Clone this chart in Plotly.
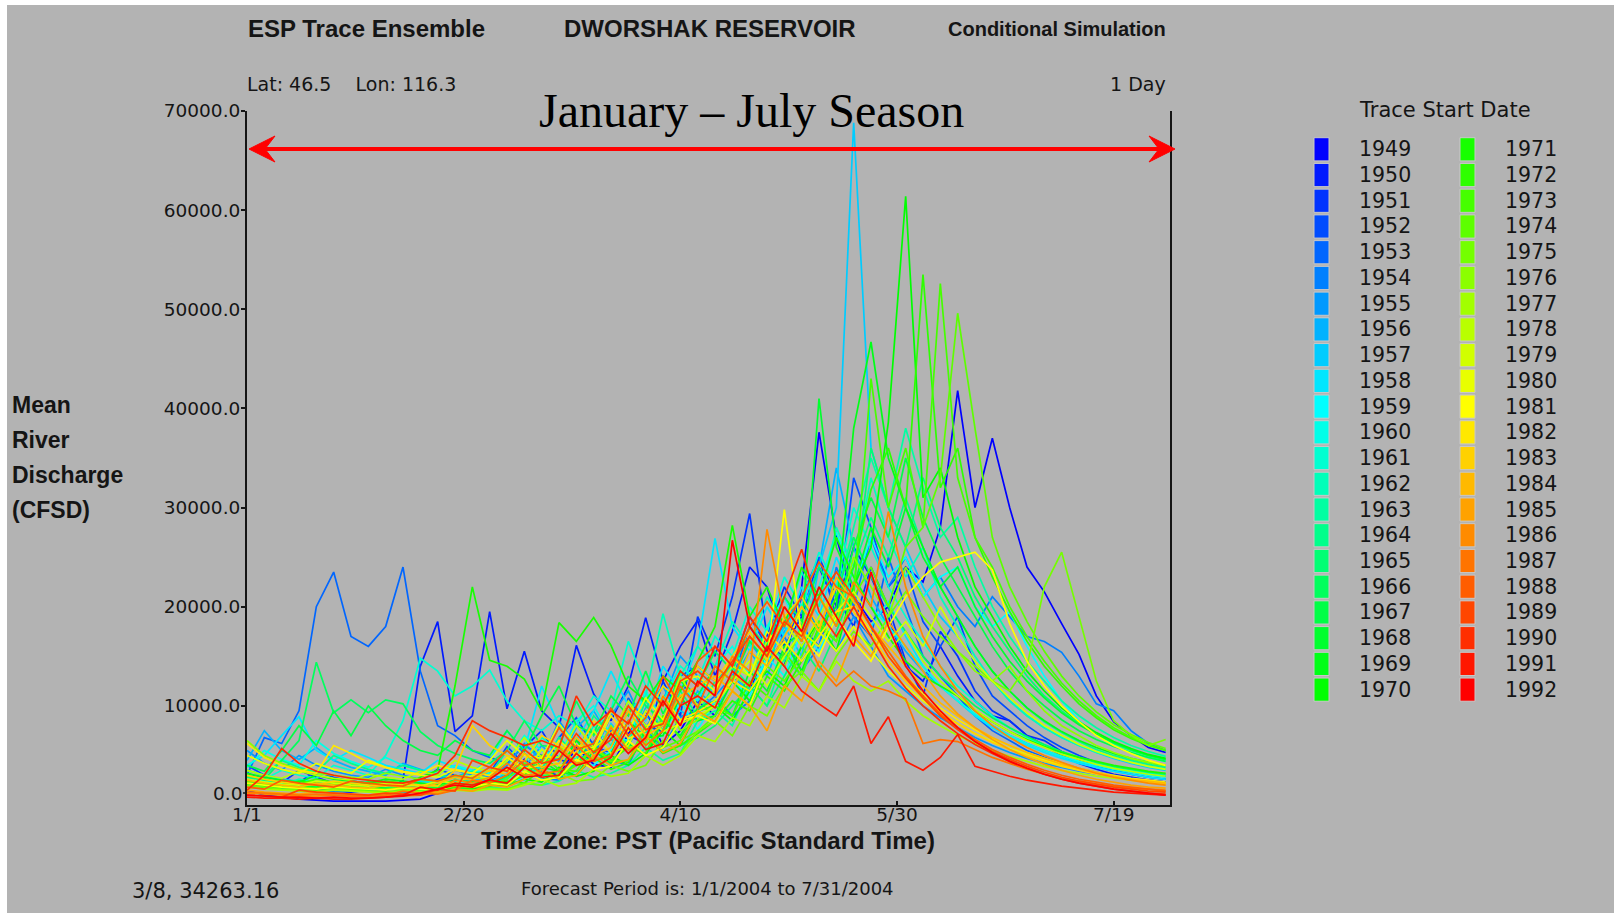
import plotly.graph_objects as go
from datetime import date, timedelta

# ---------------- data (mean daily discharge, thousands of CFSD) ----------------
YEARS = list(range(1949, 1993))
DAY_OFFSETS = list(range(0, 213, 4))          # sample days counted from 1 Jan 2004
XTICK_DATES = ["2004-01-01", "2004-02-20", "2004-04-10", "2004-05-30", "2004-07-19"]
XTICK_TEXT = ["1/1", "2/20", "4/10", "5/30", "7/19"]
YTICK_VALUES = [10000, 20000, 30000, 40000, 50000, 60000, 70000]

Q1949 = [1.5, 1.0, 0.8, 0.6, 0.5, 0.4, 0.4, 0.4, 0.4, 0.5, 0.6, 1.2, 2.0, 1.6,
         2.0, 2.8, 4.6, 3.4, 3.0, 5.8, 4.1, 3.8, 7.2, 9.5, 6.0, 7.5, 10.5,
         9.0, 13.0, 11.5, 16.0, 14.0, 22.0, 37.6, 27.0, 21.0, 18.5, 20.0, 24.0, 22.5, 28.0,
         41.8, 30.0, 37.0, 30.0, 24.0, 21.5, 18.3, 15.2, 11.0, 8.4, 7.0, 5.8, 5.3]
Q1950 = [2.5, 2.0, 1.8, 2.2, 1.6, 1.4, 1.3, 1.5, 1.4, 2.5, 14.0, 18.5, 7.4, 9.0,
         19.5, 9.7, 15.5, 9.5, 7.8, 16.1, 11.2, 8.5, 12.0, 18.9, 12.5, 16.0, 18.6,
         13.0, 17.5, 24.0, 22.0, 16.0, 19.0, 24.0, 20.0, 26.0, 23.0, 19.0, 14.0, 12.5, 16.0,
         13.0, 10.5, 9.0, 8.5, 7.0, 6.0, 5.0, 4.2, 3.6, 3.1, 2.8, 2.5, 2.3]
Q1951 = [3.2, 2.6, 2.2, 3.5, 2.8, 2.2, 2.0, 1.8, 2.4, 2.0, 1.8, 2.6, 3.0, 2.5,
         2.4, 3.1, 5.8, 7.5, 4.6, 4.0, 6.2, 9.8, 7.0, 6.2, 12.5, 9.0, 19.0,
         15.0, 21.0, 29.4, 17.0, 22.0, 19.0, 25.0, 21.0, 18.0, 24.0, 20.0, 14.5, 11.0, 17.5,
         15.0, 11.5, 9.5, 8.5, 7.0, 6.5, 5.4, 4.6, 4.0, 3.5, 3.1, 2.8, 2.6]
Q1952 = [4.0, 3.0, 2.6, 2.3, 3.4, 2.8, 2.4, 2.2, 2.0, 1.9, 2.4, 3.6, 3.0, 2.6,
         3.2, 5.9, 4.1, 3.6, 6.8, 8.8, 6.0, 5.2, 10.8, 8.0, 7.4, 13.0, 14.0,
         12.5, 14.0, 19.0, 16.0, 15.0, 21.0, 25.0, 19.0, 33.0, 28.0, 22.0, 24.0, 18.5, 16.0,
         19.0, 14.0, 11.0, 9.5, 8.0, 6.8, 5.8, 5.0, 4.3, 3.8, 3.4, 3.1, 2.9]
Q1953 = [3.0, 6.8, 6.2, 9.5, 20.0, 23.5, 17.0, 16.0, 18.0, 24.0, 13.5, 8.0, 7.0, 5.5,
         4.8, 4.2, 6.0, 5.0, 4.5, 6.5, 5.5, 7.5, 6.2, 9.0, 8.0, 12.0, 10.0,
         14.0, 12.5, 18.0, 15.5, 21.0, 18.0, 16.0, 22.0, 19.0, 17.0, 25.0, 20.0, 15.0, 13.0,
         11.0, 9.0, 7.5, 6.5, 5.5, 4.8, 4.2, 3.7, 3.3, 3.0, 2.7, 2.5, 2.3]
Q1954 = [2.0, 1.8, 1.6, 1.5, 1.4, 1.3, 1.5, 1.4, 1.3, 1.2, 1.4, 1.6, 1.5, 1.8,
         2.2, 2.0, 3.3, 2.7, 2.5, 4.6, 6.4, 4.5, 4.0, 7.6, 5.8, 8.9, 9.5,
         11.0, 9.0, 10.5, 14.0, 17.0, 13.5, 16.0, 24.0, 20.0, 27.0, 22.0, 25.0, 21.0, 23.0,
         20.0, 18.0, 21.0, 19.0, 17.0, 16.5, 15.4, 13.0, 10.2, 9.5, 7.5, 6.2, 5.5]
Q1955 = [5.5, 4.2, 3.5, 5.0, 4.0, 3.4, 3.0, 2.8, 3.6, 3.0, 2.6, 2.4, 3.5, 3.0,
         2.8, 4.0, 6.2, 4.5, 8.5, 6.0, 5.2, 9.0, 11.5, 7.8, 10.5, 15.0, 13.0,
         11.0, 13.0, 16.5, 14.0, 18.5, 21.0, 17.5, 15.5, 19.0, 16.0, 13.0, 11.5, 10.0, 8.8,
         7.8, 6.8, 6.0, 5.3, 4.7, 4.2, 3.8, 3.4, 3.1, 2.8, 2.6, 2.4, 2.2]
Q1956 = [4.5, 7.5, 5.5, 4.6, 5.8, 4.5, 3.8, 3.4, 3.0, 4.2, 3.6, 3.0, 2.8, 3.5,
         3.0, 2.7, 3.8, 6.0, 4.4, 7.8, 9.5, 6.6, 5.8, 9.8, 12.0, 8.5, 11.5,
         10.0, 12.5, 15.5, 13.0, 17.5, 19.5, 24.0, 34.0, 26.0, 21.0, 18.0, 15.5, 13.5, 12.0,
         10.5, 9.0, 8.0, 7.0, 6.2, 5.5, 4.9, 4.3, 3.8, 3.4, 3.1, 2.8, 2.6]
Q1957 = [3.5, 3.0, 2.6, 2.4, 2.2, 2.0, 2.1, 1.9, 1.8, 2.0, 2.4, 2.2, 2.0, 2.6,
         2.3, 3.2, 2.8, 4.0, 6.8, 5.0, 4.4, 8.2, 6.0, 11.5, 8.0, 9.5, 8.5,
         9.0, 13.0, 11.5, 14.5, 18.0, 15.0, 24.0, 30.0, 68.8, 36.0, 30.0, 26.0, 22.0, 19.0,
         17.0, 14.5, 12.5, 10.5, 9.0, 7.8, 6.8, 6.0, 5.3, 4.7, 4.2, 3.8, 3.5]
Q1958 = [4.0, 5.0, 7.0, 8.9, 5.5, 4.5, 5.5, 4.8, 4.0, 3.6, 3.2, 4.5, 3.8, 3.4,
         4.5, 7.5, 5.5, 12.0, 8.0, 6.5, 9.5, 13.5, 10.0, 8.5, 14.0, 11.5, 16.0,
         26.9, 18.0, 15.5, 20.0, 17.0, 22.0, 19.0, 25.0, 21.0, 18.0, 20.5, 17.0, 14.0, 12.0,
         10.5, 9.0, 7.8, 6.8, 6.0, 5.3, 4.7, 4.2, 3.8, 3.4, 3.1, 2.8, 2.6]
Q1959 = [3.0, 2.5, 2.2, 2.0, 1.9, 1.8, 2.2, 2.0, 1.8, 1.7, 1.6, 2.0, 2.4, 2.1,
         2.0, 2.8, 2.5, 3.5, 5.5, 4.2, 4.0, 5.5, 8.5, 6.2, 7.0, 10.5, 7.6,
         10.5, 12.5, 11.0, 15.0, 13.0, 17.5, 15.5, 19.0, 22.0, 27.0, 23.0, 25.0, 21.0, 23.0,
         24.0, 20.0, 18.0, 19.5, 16.0, 13.0, 10.5, 8.5, 7.0, 6.0, 5.3, 4.8, 4.4]
Q1960 = [3.8, 5.5, 4.6, 4.0, 6.5, 5.2, 4.4, 3.8, 4.8, 4.0, 3.5, 3.2, 4.0, 3.5,
         3.2, 4.4, 7.0, 5.5, 4.8, 8.5, 10.0, 7.0, 6.5, 11.5, 8.5, 12.0, 10.5,
         14.0, 16.0, 13.0, 18.0, 21.0, 17.0, 22.0, 27.5, 23.0, 20.0, 18.0, 16.0, 14.0, 12.0,
         10.5, 9.2, 8.0, 7.0, 6.2, 5.5, 4.9, 4.4, 4.0, 3.6, 3.3, 3.0, 2.8]
Q1961 = [3.0, 2.6, 3.5, 3.0, 2.7, 4.0, 3.5, 3.0, 5.0, 8.5, 14.8, 13.5, 11.0, 12.0,
         13.6, 10.5, 8.5, 7.5, 9.0, 8.0, 11.0, 9.5, 16.5, 12.0, 10.5, 14.0, 12.5,
         17.0, 15.0, 20.0, 17.5, 23.0, 20.0, 25.5, 22.0, 30.0, 26.0, 22.0, 19.0, 16.5, 14.0,
         12.0, 10.5, 9.0, 7.8, 6.8, 6.0, 5.3, 4.7, 4.2, 3.8, 3.5, 3.2, 3.0]
Q1962 = [2.5, 2.2, 2.0, 2.6, 2.3, 2.0, 1.9, 2.4, 2.1, 1.9, 2.5, 2.2, 3.0, 2.6,
         3.5, 3.0, 4.2, 6.8, 5.5, 4.6, 8.0, 6.0, 9.5, 11.0, 19.3, 13.0, 16.0,
         14.0, 18.5, 16.0, 21.0, 18.0, 23.5, 20.0, 28.0, 24.0, 33.0, 27.0, 23.0, 26.0, 21.0,
         18.0, 15.0, 12.5, 10.5, 9.0, 7.8, 6.8, 6.0, 5.3, 4.8, 4.3, 3.9, 3.6]
Q1963 = [2.2, 2.0, 1.8, 1.7, 2.0, 1.8, 1.6, 1.5, 1.7, 1.6, 1.5, 1.4, 1.6, 1.5,
         1.8, 1.6, 2.2, 2.0, 2.4, 3.5, 2.8, 3.2, 4.0, 5.8, 4.5, 5.2, 8.5,
         9.5, 8.0, 12.0, 10.0, 15.0, 13.0, 17.5, 21.0, 28.0, 35.0, 30.0, 38.0, 32.0, 27.0,
         29.0, 24.0, 20.0, 17.0, 14.5, 12.5, 10.5, 9.0, 7.8, 6.8, 6.0, 5.4, 4.9]
Q1964 = [3.5, 3.0, 4.5, 3.8, 3.3, 5.0, 4.2, 3.6, 3.2, 4.0, 3.5, 3.0, 2.7, 3.4,
         3.0, 5.5, 4.0, 3.6, 6.8, 5.0, 9.0, 7.0, 6.2, 10.5, 7.5, 11.5, 9.0,
         12.5, 14.0, 12.0, 16.5, 14.5, 18.0, 21.0, 18.0, 24.0, 29.0, 25.0, 31.0, 26.0, 22.0,
         19.0, 16.0, 13.5, 11.5, 9.8, 8.4, 7.3, 6.4, 5.6, 5.0, 4.5, 4.1, 3.8]
Q1965 = [2.8, 2.5, 2.3, 2.1, 2.0, 2.4, 2.2, 2.0, 1.9, 1.8, 2.2, 2.0, 1.9, 2.3,
         2.1, 2.8, 3.8, 3.0, 2.8, 4.2, 5.8, 4.0, 4.5, 7.5, 5.4, 6.0, 6.8,
         8.0, 10.0, 12.0, 10.0, 13.0, 16.0, 13.5, 17.5, 22.0, 36.0, 30.0, 26.0, 33.0, 28.0,
         25.0, 21.0, 18.0, 15.5, 13.0, 11.0, 9.5, 8.2, 7.1, 6.2, 5.5, 5.0, 4.6]
Q1966 = [3.0, 2.6, 4.5, 6.5, 14.4, 9.3, 10.6, 9.3, 10.6, 10.2, 7.4, 6.0, 5.2, 4.6,
         4.2, 5.5, 8.5, 6.0, 5.8, 10.5, 7.0, 9.5, 13.0, 10.0, 8.5, 13.5, 12.0,
         15.5, 13.5, 18.0, 16.0, 21.0, 18.5, 24.0, 21.0, 27.0, 23.0, 20.0, 17.5, 15.0, 13.0,
         11.5, 10.0, 8.8, 7.8, 6.9, 6.1, 5.4, 4.8, 4.3, 3.9, 3.6, 3.3, 3.1]
Q1967 = [4.0, 3.4, 5.5, 8.0, 6.0, 9.5, 7.0, 10.0, 8.0, 6.5, 5.5, 5.0, 6.5, 5.5,
         5.0, 7.5, 5.4, 9.0, 12.0, 8.0, 7.2, 11.0, 9.0, 13.5, 9.2, 12.5, 11.0,
         14.0, 12.5, 16.5, 14.5, 19.0, 16.5, 22.0, 19.0, 26.0, 31.0, 27.0, 35.0, 29.0, 25.0,
         22.0, 19.0, 16.0, 13.5, 11.5, 10.0, 8.6, 7.5, 6.6, 5.9, 5.3, 4.8, 4.4]
Q1968 = [2.5, 2.2, 2.0, 1.9, 1.8, 2.2, 2.0, 1.8, 1.7, 1.6, 1.8, 1.7, 2.0, 1.8,
         2.5, 2.2, 3.0, 4.5, 3.3, 3.0, 5.5, 4.2, 6.2, 5.0, 8.5, 7.0, 9.8,
         10.5, 9.0, 13.5, 11.5, 16.0, 17.5, 41.0, 26.0, 22.0, 28.0, 24.0, 30.0, 25.0, 22.0,
         24.0, 20.0, 17.0, 14.5, 12.5, 10.8, 9.3, 8.1, 7.1, 6.3, 5.6, 5.0, 4.6]
Q1969 = [3.2, 2.8, 2.5, 2.3, 3.0, 2.6, 2.4, 2.2, 2.6, 2.4, 2.2, 2.0, 2.5, 2.3,
         2.1, 3.0, 5.2, 3.8, 3.4, 6.5, 4.4, 5.2, 8.5, 6.8, 7.0, 11.0, 8.5,
         9.0, 12.5, 10.5, 14.0, 16.5, 13.5, 18.0, 20.0, 38.0, 46.7, 35.0, 30.0, 26.0, 22.0,
         19.0, 16.0, 13.5, 11.5, 9.8, 8.5, 7.4, 6.5, 5.8, 5.2, 4.7, 4.3, 4.0]
Q1970 = [2.0, 1.8, 1.6, 1.5, 1.4, 1.6, 1.5, 1.4, 1.3, 1.4, 1.6, 1.5, 1.8, 1.7,
         2.0, 1.9, 2.6, 2.3, 3.8, 2.9, 3.4, 5.0, 4.0, 5.2, 7.5, 6.0, 9.5,
         10.0, 8.5, 11.5, 13.5, 12.0, 16.0, 18.5, 15.5, 22.0, 26.0, 38.6, 61.4, 31.0, 34.0,
         27.0, 22.0, 19.0, 16.0, 13.5, 11.5, 9.8, 8.4, 7.3, 6.4, 5.7, 5.1, 4.7]
Q1971 = [2.5, 2.2, 2.0, 2.4, 2.2, 2.0, 1.9, 2.3, 2.1, 2.0, 2.8, 3.5, 12.0, 22.0,
         14.6, 14.0, 12.7, 9.5, 18.4, 16.5, 18.9, 16.1, 12.0, 10.5, 13.0, 11.5, 14.5,
         18.0, 28.2, 19.0, 22.0, 18.0, 24.0, 21.0, 27.0, 23.0, 20.0, 17.0, 14.5, 13.0, 12.0,
         11.0, 9.5, 8.4, 7.4, 6.6, 5.9, 5.3, 4.8, 4.4, 4.0, 3.7, 3.4, 3.2]
Q1972 = [2.2, 2.0, 1.8, 1.7, 1.6, 1.9, 1.7, 1.6, 1.5, 1.7, 1.6, 1.5, 1.8, 1.7,
         1.9, 2.4, 2.2, 3.6, 2.7, 3.0, 4.8, 3.6, 4.3, 7.0, 5.2, 6.0, 7.2,
         8.5, 10.5, 9.5, 13.0, 11.5, 14.5, 17.0, 21.0, 24.0, 31.8, 36.0, 30.0, 53.5, 32.0,
         36.0, 27.0, 23.0, 19.5, 16.5, 14.0, 12.0, 10.2, 8.8, 7.6, 6.7, 6.0, 5.5]
Q1973 = [3.0, 2.6, 2.3, 2.1, 2.6, 2.3, 2.1, 2.0, 2.4, 2.2, 2.0, 1.9, 2.2, 2.0,
         2.4, 2.2, 3.0, 5.0, 3.6, 3.4, 6.0, 4.5, 5.8, 5.2, 9.0, 6.7, 9.5,
         10.0, 9.0, 12.5, 11.0, 15.5, 13.0, 18.0, 16.5, 21.0, 43.0, 30.0, 36.0, 28.0, 52.6,
         33.0, 27.0, 24.0, 20.0, 17.0, 14.5, 12.3, 10.5, 9.0, 7.8, 6.8, 6.1, 5.5]
Q1974 = [2.4, 2.1, 1.9, 1.8, 1.7, 2.0, 1.8, 1.7, 1.6, 1.8, 1.7, 1.6, 1.9, 1.8,
         2.0, 2.6, 4.2, 3.2, 2.9, 4.0, 5.8, 4.4, 4.5, 8.0, 5.8, 6.5, 7.4,
         9.0, 11.5, 10.0, 14.0, 12.5, 15.0, 18.5, 16.5, 21.0, 24.0, 20.0, 26.0, 28.0, 33.0,
         49.6, 38.0, 27.0, 22.0, 18.5, 15.5, 13.0, 11.0, 9.4, 8.1, 7.1, 6.3, 5.7]
Q1975 = [2.0, 1.8, 1.6, 1.5, 1.4, 1.6, 1.5, 1.4, 1.3, 1.5, 1.4, 1.3, 1.6, 1.5,
         1.7, 1.6, 2.2, 2.0, 3.2, 2.4, 2.6, 4.0, 3.4, 4.0, 6.5, 5.2, 7.5,
         8.5, 7.0, 10.0, 9.0, 12.0, 13.5, 11.5, 15.0, 17.5, 16.0, 19.0, 21.5, 19.0, 17.0,
         15.5, 14.0, 12.5, 11.5, 14.0, 22.0, 25.5, 19.0, 12.5, 8.5, 7.0, 6.0, 6.6]
Q1976 = [6.5, 5.0, 4.2, 3.6, 3.2, 3.0, 2.8, 2.6, 3.2, 2.9, 2.6, 2.4, 3.0, 2.8,
         2.6, 4.8, 3.4, 3.2, 6.0, 4.2, 4.7, 8.0, 5.8, 6.2, 10.5, 7.5, 8.6,
         10.0, 13.0, 12.0, 15.5, 14.0, 18.0, 21.0, 18.5, 25.0, 22.0, 19.0, 24.0, 21.0, 18.0,
         15.5, 13.5, 12.5, 14.0, 11.5, 9.5, 8.0, 7.0, 6.0, 5.3, 4.7, 4.3, 4.0]
Q1977 = [1.8, 1.6, 1.5, 1.4, 1.3, 1.5, 1.4, 1.3, 1.2, 1.4, 1.3, 1.2, 1.5, 1.4,
         1.6, 1.5, 2.0, 2.6, 1.9, 2.2, 3.6, 2.9, 3.2, 5.0, 4.0, 5.0, 7.0,
         6.4, 8.8, 8.0, 11.0, 9.8, 13.0, 11.5, 14.5, 12.5, 11.5, 12.5, 10.5, 9.0, 8.0,
         7.0, 6.2, 5.5, 4.9, 4.4, 3.9, 3.5, 3.2, 2.9, 2.7, 2.5, 2.3, 2.2]
Q1978 = [3.5, 3.0, 2.7, 3.4, 3.0, 2.7, 2.5, 3.1, 2.8, 2.6, 3.4, 3.0, 4.5, 3.8,
         3.4, 4.4, 6.8, 4.8, 4.8, 8.0, 5.8, 7.0, 10.5, 8.0, 8.3, 13.0, 10.0,
         11.5, 14.0, 13.0, 16.5, 18.5, 16.0, 19.0, 22.0, 21.0, 18.0, 15.5, 17.5, 14.5, 12.5,
         11.0, 9.6, 8.4, 7.4, 6.5, 5.8, 5.1, 4.6, 4.1, 3.7, 3.4, 3.1, 2.9]
Q1979 = [2.6, 2.3, 2.1, 2.0, 2.4, 2.2, 2.0, 1.9, 2.2, 2.0, 1.9, 2.4, 2.2, 3.0,
         2.7, 3.6, 3.2, 5.6, 4.0, 4.2, 7.5, 5.2, 6.0, 9.5, 7.4, 8.2, 9.0,
         10.0, 12.5, 14.5, 12.0, 15.0, 17.5, 16.0, 19.5, 21.5, 19.0, 16.5, 18.5, 16.0, 20.0,
         17.0, 14.5, 12.5, 10.8, 9.3, 8.0, 7.0, 6.1, 5.4, 4.8, 4.3, 3.9, 3.6]
Q1980 = [5.0, 4.2, 3.6, 3.2, 4.2, 3.6, 3.2, 4.5, 3.8, 3.3, 3.0, 2.8, 3.6, 3.2,
         4.5, 6.5, 5.0, 4.7, 8.2, 6.0, 5.8, 9.5, 7.5, 10.8, 8.6, 12.5, 13.0,
         11.5, 15.0, 13.0, 17.5, 15.5, 20.0, 17.5, 15.5, 18.0, 15.5, 13.5, 12.0, 10.5, 9.2,
         8.2, 7.2, 6.4, 5.7, 5.1, 4.5, 4.0, 3.6, 3.2, 2.9, 2.6, 2.4, 2.2]
Q1981 = [2.2, 2.0, 1.8, 1.7, 1.6, 1.8, 1.7, 1.6, 1.5, 1.7, 1.6, 1.5, 2.0, 1.8,
         2.2, 2.0, 3.4, 2.5, 2.8, 4.6, 3.6, 3.9, 6.5, 5.0, 5.8, 8.5, 9.0,
         8.2, 11.5, 10.0, 14.5, 29.8, 17.0, 15.0, 19.0, 16.5, 14.5, 18.0, 21.0, 23.0, 24.5,
         25.0, 25.5, 23.7, 18.3, 14.5, 12.0, 10.0, 8.4, 7.0, 6.0, 5.2, 4.5, 4.0]
Q1982 = [6.2, 4.8, 4.0, 3.5, 3.2, 6.0, 5.2, 4.3, 3.8, 3.4, 3.1, 4.0, 3.5, 3.2,
         3.0, 4.8, 3.7, 4.0, 6.5, 5.0, 5.6, 9.0, 6.7, 7.5, 11.0, 8.6, 9.4,
         10.5, 12.5, 11.5, 14.0, 16.5, 14.5, 17.0, 19.5, 20.0, 17.5, 15.0, 13.0, 11.2, 9.8,
         8.6, 7.6, 6.7, 6.0, 5.3, 4.7, 4.2, 3.7, 3.3, 3.0, 2.7, 2.5, 2.3]
Q1983 = [3.0, 2.6, 2.3, 2.1, 2.0, 2.4, 2.2, 2.0, 1.9, 2.2, 2.0, 1.9, 3.5, 8.0,
         6.0, 5.0, 4.4, 7.0, 6.0, 5.2, 8.5, 7.2, 10.0, 8.8, 12.0, 10.5, 14.0,
         12.5, 15.0, 17.5, 14.5, 19.0, 21.0, 18.0, 22.0, 19.5, 17.0, 14.5, 12.5, 10.8, 9.4,
         8.2, 7.2, 6.3, 5.6, 5.0, 4.4, 3.9, 3.5, 3.1, 2.8, 2.5, 2.3, 2.1]
Q1984 = [2.5, 2.2, 2.0, 1.8, 2.2, 2.0, 1.8, 1.7, 2.0, 1.8, 1.7, 2.2, 2.8, 2.5,
         3.5, 3.1, 5.2, 3.8, 4.2, 6.8, 5.0, 5.8, 9.5, 7.0, 8.0, 11.0, 12.0,
         13.0, 11.5, 15.5, 14.0, 17.0, 20.0, 17.5, 23.0, 20.5, 18.0, 16.0, 14.0, 12.0, 10.3,
         9.0, 7.8, 6.8, 6.0, 5.3, 4.7, 4.1, 3.7, 3.3, 2.9, 2.6, 2.4, 2.2]
Q1985 = [1.5, 1.3, 1.2, 1.1, 1.3, 1.2, 1.1, 1.0, 1.2, 1.1, 1.0, 1.3, 1.6, 1.4,
         2.0, 1.8, 2.6, 3.6, 2.6, 3.0, 5.0, 4.0, 4.6, 7.0, 5.3, 6.2, 9.5,
         8.4, 11.5, 10.0, 7.5, 12.0, 10.5, 14.5, 12.5, 17.0, 15.0, 18.5, 16.0, 13.5, 11.0,
         9.2, 7.8, 6.6, 5.6, 4.8, 4.1, 3.5, 3.0, 2.6, 2.3, 2.0, 1.8, 1.7]
Q1986 = [1.2, 1.1, 1.0, 0.9, 0.9, 1.0, 0.9, 0.9, 1.0, 0.9, 1.0, 1.5, 2.5, 2.2,
         2.8, 4.2, 3.0, 3.2, 5.8, 4.2, 4.6, 7.8, 5.5, 6.6, 11.0, 8.0, 12.5,
         11.0, 15.0, 13.5, 27.8, 19.0, 16.5, 21.0, 18.0, 22.5, 20.0, 29.6, 22.0, 17.0, 14.0,
         11.5, 9.5, 8.0, 6.8, 5.8, 5.0, 4.3, 3.7, 3.2, 2.8, 2.5, 2.2, 2.0]
Q1987 = [1.3, 1.2, 1.1, 1.0, 1.1, 1.0, 0.9, 0.9, 1.0, 1.4, 1.2, 1.1, 1.5, 2.5,
         2.2, 3.0, 4.5, 3.2, 3.4, 6.0, 4.4, 5.0, 8.5, 6.0, 7.5, 12.0, 9.8,
         14.0, 12.5, 17.0, 15.0, 20.0, 17.5, 14.0, 12.0, 13.5, 12.0, 11.5, 10.7, 6.2, 6.6,
         6.4, 5.6, 4.8, 4.2, 3.6, 3.1, 2.7, 2.4, 2.1, 1.9, 1.7, 1.6, 1.5]
Q1988 = [1.8, 1.6, 2.5, 2.2, 2.0, 1.8, 2.4, 2.2, 2.0, 1.9, 2.6, 2.4, 3.0, 2.7,
         3.8, 5.5, 4.0, 4.4, 7.8, 5.6, 6.2, 9.8, 7.0, 8.8, 13.0, 10.0, 14.5,
         16.0, 14.0, 18.0, 20.5, 18.0, 21.0, 24.5, 22.0, 21.0, 18.0, 15.5, 13.0, 11.0, 9.2,
         7.8, 6.6, 5.6, 4.8, 4.1, 3.5, 3.0, 2.6, 2.3, 2.0, 1.8, 1.6, 1.4]
Q1989 = [1.0, 0.9, 0.8, 1.5, 1.3, 1.2, 1.1, 1.0, 1.2, 1.1, 1.0, 1.6, 1.4, 4.5,
         3.8, 3.4, 5.6, 4.2, 4.6, 7.2, 5.3, 6.6, 10.0, 7.6, 8.2, 12.5, 13.5,
         12.0, 14.5, 17.0, 15.0, 18.5, 17.0, 21.0, 23.5, 21.0, 18.0, 15.0, 12.8, 10.8, 9.0,
         7.6, 6.4, 5.4, 4.6, 3.9, 3.3, 2.8, 2.4, 2.1, 1.8, 1.6, 1.4, 1.3]
Q1990 = [1.5, 3.0, 5.7, 4.2, 3.4, 3.0, 2.7, 2.5, 2.3, 2.2, 2.6, 3.2, 5.0, 8.5,
         7.5, 6.8, 6.0, 6.5, 5.8, 11.0, 8.0, 9.5, 8.2, 12.0, 10.0, 13.5, 12.0,
         16.0, 14.0, 19.0, 16.5, 21.0, 25.8, 19.5, 17.0, 20.0, 17.0, 14.0, 11.8, 10.0, 8.5,
         7.2, 6.1, 5.2, 4.4, 3.7, 3.1, 2.6, 2.2, 1.9, 1.6, 1.4, 1.2, 1.1]
Q1991 = [0.8, 0.7, 0.7, 0.6, 0.7, 0.6, 0.6, 0.7, 0.8, 1.0, 1.8, 1.5, 2.2, 2.0,
         2.5, 2.2, 3.8, 2.8, 3.0, 5.2, 3.7, 4.8, 7.8, 5.6, 6.2, 10.0, 11.0,
         9.8, 13.5, 12.0, 16.0, 14.0, 11.5, 10.2, 9.0, 12.0, 6.2, 8.9, 4.4, 3.5, 4.8,
         7.1, 3.9, 3.4, 2.9, 2.5, 2.2, 1.9, 1.7, 1.5, 1.3, 1.2, 1.1, 1.0]
Q1992 = [1.0, 0.9, 0.8, 0.8, 0.7, 0.8, 0.7, 0.7, 0.8, 0.9, 1.2, 1.6, 2.0, 1.8,
         2.6, 3.8, 2.8, 3.0, 5.5, 4.0, 4.5, 7.2, 5.2, 6.8, 10.5, 8.0, 12.5,
         11.0, 26.7, 18.0, 15.5, 20.0, 17.5, 22.0, 19.0, 16.0, 23.5, 18.0, 14.0, 11.5, 9.5,
         7.8, 6.4, 5.3, 4.4, 3.7, 3.1, 2.6, 2.2, 1.9, 1.6, 1.4, 1.2, 1.0]

SERIES = [Q1949, Q1950, Q1951, Q1952, Q1953, Q1954, Q1955, Q1956, Q1957, Q1958, Q1959,
          Q1960, Q1961, Q1962, Q1963, Q1964, Q1965, Q1966, Q1967, Q1968, Q1969, Q1970,
          Q1971, Q1972, Q1973, Q1974, Q1975, Q1976, Q1977, Q1978, Q1979, Q1980, Q1981,
          Q1982, Q1983, Q1984, Q1985, Q1986, Q1987, Q1988, Q1989, Q1990, Q1991, Q1992]

# ---------------- styling ----------------
W, H = 1614, 913
ML, MR, MT, MB = 247, 444, 111, 108
PW, PH = W - ML - MR, H - MT - MB
BG = "#b3b3b3"
INK = "#151515"
BOLD = "Liberation Sans, Arial, sans-serif"
REG = "DejaVu Sans, Verdana, sans-serif"
SERIF = "Liberation Serif, Times New Roman, serif"


def px(x):
    return (x - ML) / PW


def py(y):
    return 1 - (y - MT) / PH


def rainbow(i, n):
    # blue -> cyan -> green -> yellow -> red, anchors as in the legend
    anchors = [(0, (0, 0, 255)), (10, (0, 255, 255)), (21, (0, 255, 0)),
               (32, (255, 255, 0)), (n - 1, (255, 0, 0))]
    for (i0, c0), (i1, c1) in zip(anchors[:-1], anchors[1:]):
        if i0 <= i <= i1:
            t = (i - i0) / (i1 - i0)
            r, g, b = (round(a + (b_ - a) * t) for a, b_ in zip(c0, c1))
            return f"rgb({r},{g},{b})"
    return "rgb(255,0,0)"


dates = [(date(2004, 1, 1) + timedelta(days=d)).isoformat() for d in DAY_OFFSETS]
n = len(YEARS)
colors = [rainbow(i, n) for i in range(n)]

fig = go.Figure()
for yr, q, col in zip(YEARS, SERIES, colors):
    fig.add_trace(go.Scatter(x=dates, y=[v * 1000 for v in q], mode="lines",
                             line=dict(color=col, width=1.7), name=str(yr),
                             showlegend=False, hoverinfo="skip"))

shapes = []
anns = []

# grey canvas with thin white border at top/left
shapes.append(dict(type="rect", xref="paper", yref="paper", layer="below",
                   x0=px(7), x1=px(W), y0=py(5), y1=py(H),
                   fillcolor=BG, line=dict(width=0)))

# red double arrow
AY = 149
shapes.append(dict(type="line", xref="paper", yref="paper", x0=px(262), x1=px(1162),
                   y0=py(AY), y1=py(AY), line=dict(color="#ff0000", width=4)))
for tip, back, notch in [(249, 275, 265), (1175, 1149, 1159)]:
    path = (f"M {px(tip)},{py(AY)} L {px(back)},{py(AY - 13)} "
            f"L {px(notch)},{py(AY)} L {px(back)},{py(AY + 13)} Z")
    shapes.append(dict(type="path", xref="paper", yref="paper", path=path,
                       fillcolor="#ff0000", line=dict(color="#ff0000", width=1)))

# the "0.0" tick of the original sits a little above the axis line
ZERO_Y = 793
shapes.append(dict(type="line", xref="paper", yref="paper", x0=px(243), x1=px(247),
                   y0=py(ZERO_Y), y1=py(ZERO_Y), line=dict(color=INK, width=1.5)))


def text(t, x, y, size, family=REG, xanchor="left", color=INK):
    anns.append(dict(text=t, x=px(x), y=py(y), xref="paper", yref="paper",
                     xanchor=xanchor, yanchor="middle", showarrow=False,
                     font=dict(family=family, size=size, color=color)))


text("0.0", 244, ZERO_Y, 18.5, REG, xanchor="right")
text("<b>ESP Trace Ensemble</b>", 246, 28, 24, BOLD)
text("<b>DWORSHAK RESERVOIR</b>", 562, 28, 24, BOLD)
text("<b>Conditional Simulation</b>", 1168, 29, 20, BOLD, xanchor="right")
text("Lat: 46.5\u00a0\u00a0\u00a0 Lon: 116.3", 245, 84, 19, REG)
text("1 Day", 1168, 84, 19, REG, xanchor="right")
text("January \u2013 July Season", 751, 110, 48, SERIF, xanchor="center", color="#000000")
for i, word in enumerate(["Mean", "River", "Discharge", "(CFSD)"]):
    text(f"<b>{word}</b>", 10, 405 + 35 * i, 23, BOLD)
text("<b>Time Zone: PST (Pacific Standard Time)</b>", 708, 840, 24, BOLD, xanchor="center")
text("3/8, 34263.16", 130, 891, 21, REG)
text("Forecast Period is: 1/1/2004 to 7/31/2004", 519, 889, 18, REG)

# legend block
text("Trace Start Date", 1357, 110, 21, REG)
ROW0, PITCH = 149.3, 25.73
for i, (yr, col) in enumerate(zip(YEARS, colors)):
    colno, row = divmod(i, 22)
    yc = ROW0 + PITCH * row
    sx = 1314 if colno == 0 else 1460
    tx = 1357 if colno == 0 else 1503
    shapes.append(dict(type="rect", xref="paper", yref="paper",
                       x0=px(sx), x1=px(sx + 15), y0=py(yc - 11.6), y1=py(yc + 11.6),
                       fillcolor=col, line=dict(color="rgb(200,200,200)", width=1)))
    text(str(yr), tx, yc, 20.5, REG)

fig.update_layout(
    width=W, height=H, margin=dict(l=ML, r=MR, t=MT, b=MB, pad=0),
    paper_bgcolor="#ffffff", plot_bgcolor=BG, showlegend=False,
    shapes=shapes, annotations=anns,
    xaxis=dict(type="date", range=["2004-01-01", "2004-08-01"],
               tickvals=XTICK_DATES, ticktext=XTICK_TEXT,
               showgrid=False, zeroline=False, showline=True, linecolor=INK, linewidth=2,
               ticks="inside", ticklen=4, tickwidth=1.5, tickcolor=INK,
               ticklabelstandoff=-8,
               tickfont=dict(family=REG, size=18.5, color=INK)),
    yaxis=dict(range=[0, 70000], tickvals=YTICK_VALUES, tickformat=".1f",
               showgrid=False, zeroline=False, showline=True, mirror=True,
               linecolor=INK, linewidth=2, ticks="outside", ticklen=4, tickwidth=1.5,
               ticklabelstandoff=-3,
               tickcolor=INK, tickfont=dict(family=REG, size=18.5, color=INK)),
)

fig.write_html("out.html")
